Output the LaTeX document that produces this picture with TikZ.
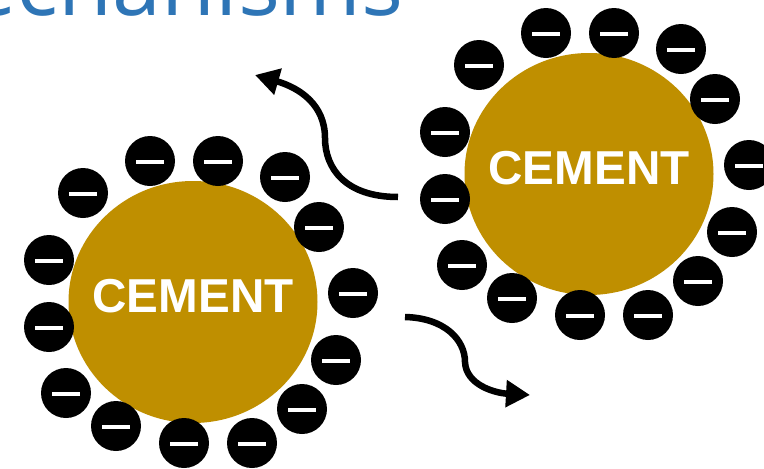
\documentclass[tikz,border=0pt]{standalone}
\usepackage{fontspec}
\setmainfont{Liberation Sans}
\newfontfamily\titlefont{Open Sans}
\usetikzlibrary{arrows.meta,shapes.geometric}
\definecolor{cementgold}{RGB}{191,143,0}
\definecolor{titleblue}{RGB}{46,117,182}
\tikzset{
	cement/.style={ellipse, fill=cementgold, minimum width=249pt, minimum height=242pt, inner sep=0pt},
	cementtext/.style={text=white, font=\bfseries\fontsize{47.6}{57}\selectfont, inner sep=0pt},
	charge/.style={circle, fill=black, minimum size=50pt, inner sep=0pt,
		path picture={\fill[white] ([xshift=-14pt,yshift=-2.5pt]path picture bounding box.center) rectangle ([xshift=14pt,yshift=1.5pt]path picture bounding box.center);}},
	flow/.style={line width=6.5pt, -{Triangle[length=24pt,width=26pt]}}
}
\begin{document}
\begin{tikzpicture}[x=1pt, y=-1pt]
		\useasboundingbox (0,0) rectangle (764,469);
		\clip (0,0) rectangle (764,469);
		
		\node[anchor=base east, text=titleblue, font=\titlefont\fontsize{88}{100}\selectfont, inner sep=0pt] (title) at (404,15) {Mechanisms};
		
		\begin{scope}[shift={(193,302)}]
			\node[cement] (C1) at (0,0) {};
			\node[cementtext] (T1) at (0,-6) {CEMENT};
			
			\foreach \x/\y [count=\i] in {-110/-109, -43/-141, 25/-141, 92/-125, 126/-75, 160/-9, 143/58, 109/107, 59/141, -9/141, -77/124, -127/91, -144/25, -144/-42}
			{
				\node[charge] (m1-\i) at (\x,\y) {};
			}
		\end{scope}
		\begin{scope}[shift={(589,174)}]
			\node[cement] (C2) at (0,0) {};
			\node[cementtext] (T2) at (0,-6) {CEMENT};
			
			\foreach \x/\y [count=\i] in {-110/-109, -43/-141, 25/-141, 92/-125, 126/-75, 160/-9, 143/58, 109/107, 59/141, -9/141, -77/124, -127/91, -144/25, -144/-42}
			{
				\node[charge] (m2-\i) at (\x,\y) {};
			}
		\end{scope}
		
		% arrows between the two grains
		\coordinate (up-start) at (398,197);
		\coordinate (up-end) at (255,75);
		\coordinate (down-start) at (405,317);
		\coordinate (down-end) at (530,395);
		\draw[flow] (up-start) .. controls (345,197) and (325,168) .. (325,138) .. controls (325,105) and (300,88) .. (up-end);
		\draw[flow] (down-start) .. controls (445,318) and (465,340) .. (465,362) .. controls (466,385) and (495,393) .. (down-end);
	\end{tikzpicture}
\end{document}
